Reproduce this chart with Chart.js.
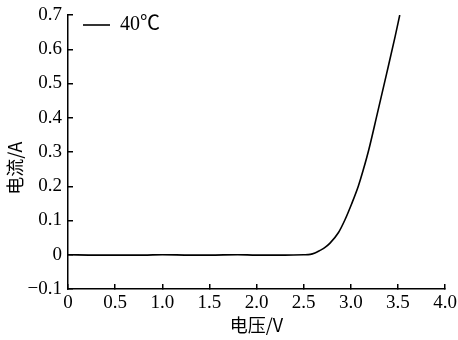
<!DOCTYPE html>
<html>
<head>
<meta charset="utf-8">
<script src="https://cdn.jsdelivr.net/npm/chart.js@4"></script>
<style>
  body { margin: 0; background: #fff; }
  #wrap { width: 458px; height: 340px; }
</style>
</head>
<body>
<div id="wrap"><canvas id="ivChart" width="458" height="340"></canvas></div>
<script>
// voltage (V) and current (A)
var voltage = [0, 0.3, 0.5, 0.8, 1.0, 1.3, 1.5, 1.8, 2.0, 2.3, 2.5, 2.57, 2.62, 2.67, 2.72, 2.78, 2.87, 2.94, 3.01, 3.08, 3.13, 3.19, 3.28, 3.38, 3.47, 3.52];
var current = [0, -0.001, -0.001, -0.001, 0, -0.001, -0.001, 0, -0.001, -0.001, 0, 0.001, 0.005, 0.012, 0.02, 0.034, 0.065, 0.103, 0.149, 0.2, 0.245, 0.305, 0.41, 0.528, 0.636, 0.70];
var seriesName = "40℃";

var xTickLabels = ["0", "0.5", "1.0", "1.5", "2.0", "2.5", "3.0", "3.5", "4.0"];
var yTickLabels = ["−0.1", "0", "0.1", "0.2", "0.3", "0.4", "0.5", "0.6", "0.7"];

var points = voltage.map(function(v, i) { return {x: v, y: current[i]}; });

var serif = "'Liberation Serif', 'Noto Sans CJK SC', serif";
var cjk = "'Noto Sans CJK SC', 'Liberation Serif', serif";

var ivChart = new Chart(document.getElementById("ivChart"), {
  type: 'line',
  data: {
    datasets: [{
      label: seriesName,
      data: points,
      borderColor: '#000',
      backgroundColor: '#000',
      borderWidth: 1.6,
      pointRadius: 0,
      cubicInterpolationMode: 'monotone',
      pointStyle: 'line'
    }]
  },
  options: {
    responsive: false,
    animation: false,
    layout: { padding: {top: 15, right: 13, left: 0, bottom: 0} },
    plugins: {
      tooltip: { enabled: false },
      legend: {
        position: 'chartArea',
        align: 'start',
        labels: {
          usePointStyle: true,
          pointStyleWidth: 27,
          boxWidth: 27,
          boxHeight: 18,
          padding: 15,
          color: '#000',
          font: { family: serif, size: 20 }
        }
      }
    },
    scales: {
      x: {
        type: 'linear',
        min: 0,
        max: 4,
        afterFit: function(scale) {
          scale.height = 51;
          scale.paddingLeft = 0;
          scale.paddingRight = 0;
        },
        border: { color: '#000', width: 1.5 },
        grid: { drawOnChartArea: false, tickLength: -5, color: '#000', lineWidth: 1.5 },
        ticks: {
          stepSize: 0.5,
          padding: 8,
          color: '#000',
          maxRotation: 0,
          font: { family: serif, size: 19 },
          callback: function(value, index) { return xTickLabels[index]; }
        },
        title: {
          display: true,
          text: "电压/V",
          color: '#000',
          padding: {top: 0, bottom: 4},
          font: { family: cjk, size: 18 }
        }
      },
      y: {
        min: -0.1,
        max: 0.7,
        afterFit: function(scale) {
          scale.width = 68;
          scale.paddingTop = 0;
          scale.paddingBottom = 0;
        },
        border: { color: '#000', width: 1.5 },
        grid: { drawOnChartArea: false, tickLength: -5, color: '#000', lineWidth: 1.5 },
        ticks: {
          stepSize: 0.1,
          padding: 11,
          color: '#000',
          font: { family: serif, size: 19 },
          callback: function(value, index) { return yTickLabels[index]; }
        },
        title: {
          display: true,
          text: "电流/A        ",
          color: '#000',
          padding: {top: 4, bottom: 0},
          font: { family: cjk, size: 18 }
        }
      }
    }
  }
});
</script>
</body>
</html>
